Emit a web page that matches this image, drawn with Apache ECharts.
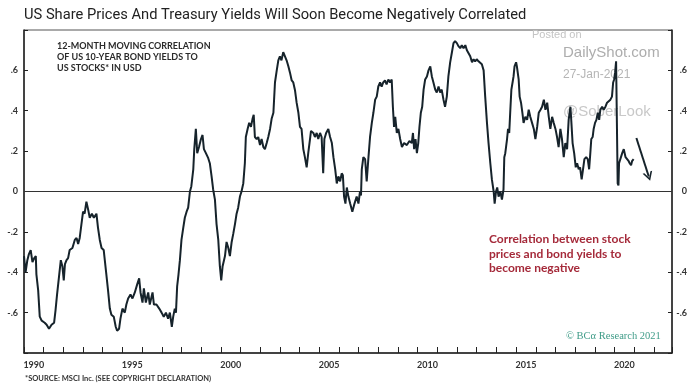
<!DOCTYPE html>
<html>
<head>
<meta charset="utf-8">
<script src="https://cdn.jsdelivr.net/npm/echarts@6/dist/echarts.min.js"></script>
<style>html,body{margin:0;padding:0;background:#fff}#c{width:700px;height:391px}</style>
</head>
<body>
<div id="c"></div>
<script>
// ---- data ----
const years = [1990.00,1990.08,1990.17,1990.25,1990.34,1990.43,1990.52,1990.60,1990.63,1990.72,1990.80,1990.90,1991.05,1991.15,1991.27,1991.40,1991.53,1991.60,1991.68,1991.78,1991.87,1991.95,1992.02,1992.08,1992.16,1992.24,1992.32,1992.46,1992.58,1992.67,1992.75,1992.83,1992.92,1993.00,1993.08,1993.17,1993.26,1993.34,1993.45,1993.55,1993.68,1993.76,1993.85,1993.94,1994.05,1994.16,1994.27,1994.36,1994.44,1994.56,1994.66,1994.73,1994.83,1994.90,1995.00,1995.12,1995.20,1995.29,1995.41,1995.51,1995.63,1995.75,1995.85,1995.92,1996.02,1996.09,1996.19,1996.31,1996.39,1996.53,1996.60,1996.73,1996.87,1996.99,1997.10,1997.21,1997.32,1997.41,1997.51,1997.58,1997.66,1997.72,1997.78,1997.85,1997.92,1998.00,1998.09,1998.17,1998.26,1998.34,1998.43,1998.50,1998.60,1998.65,1998.73,1998.80,1998.89,1998.99,1999.07,1999.14,1999.24,1999.36,1999.44,1999.53,1999.61,1999.70,1999.78,1999.87,1999.95,2000.02,2000.09,2000.21,2000.29,2000.38,2000.46,2000.55,2000.63,2000.72,2000.80,2000.88,2000.97,2001.05,2001.14,2001.22,2001.27,2001.36,2001.44,2001.53,2001.61,2001.67,2001.73,2001.82,2001.90,2001.99,2002.07,2002.16,2002.24,2002.33,2002.41,2002.50,2002.58,2002.67,2002.75,2002.84,2002.92,2003.00,2003.08,2003.17,2003.27,2003.34,2003.43,2003.51,2003.60,2003.68,2003.77,2003.85,2003.94,2004.02,2004.10,2004.19,2004.27,2004.36,2004.44,2004.53,2004.58,2004.70,2004.78,2004.87,2004.95,2005.04,2005.12,2005.20,2005.26,2005.35,2005.46,2005.55,2005.64,2005.72,2005.81,2005.89,2005.97,2006.06,2006.14,2006.20,2006.26,2006.33,2006.40,2006.48,2006.57,2006.68,2006.79,2006.90,2006.99,2007.07,2007.12,2007.16,2007.24,2007.33,2007.41,2007.50,2007.58,2007.67,2007.75,2007.84,2007.92,2008.00,2008.09,2008.17,2008.25,2008.34,2008.42,2008.51,2008.60,2008.68,2008.74,2008.80,2008.86,2008.94,2009.02,2009.11,2009.20,2009.31,2009.45,2009.58,2009.70,2009.76,2009.82,2009.89,2009.96,2010.03,2010.09,2010.16,2010.23,2010.30,2010.38,2010.47,2010.55,2010.64,2010.72,2010.80,2010.89,2010.97,2011.06,2011.14,2011.22,2011.31,2011.39,2011.48,2011.56,2011.65,2011.74,2011.82,2011.90,2011.99,2012.07,2012.16,2012.24,2012.33,2012.42,2012.50,2012.58,2012.67,2012.76,2012.84,2012.92,2013.00,2013.09,2013.18,2013.26,2013.35,2013.43,2013.52,2013.60,2013.69,2013.77,2013.86,2013.91,2013.98,2014.04,2014.11,2014.20,2014.28,2014.36,2014.40,2014.45,2014.54,2014.59,2014.65,2014.70,2014.76,2014.82,2014.87,2014.92,2015.00,2015.04,2015.13,2015.18,2015.25,2015.32,2015.38,2015.47,2015.56,2015.64,2015.72,2015.81,2015.90,2015.98,2016.07,2016.15,2016.24,2016.32,2016.41,2016.49,2016.58,2016.66,2016.74,2016.83,2016.91,2017.00,2017.08,2017.16,2017.25,2017.33,2017.42,2017.50,2017.59,2017.67,2017.76,2017.81,2017.87,2017.95,2018.03,2018.10,2018.18,2018.25,2018.33,2018.40,2018.47,2018.56,2018.64,2018.71,2018.77,2018.82,2018.89,2018.94,2019.01,2019.08,2019.15,2019.22,2019.28,2019.37,2019.45,2019.54,2019.62,2019.70,2019.79,2019.87,2019.93,2019.98,2020.03,2020.08,2020.13,2020.16,2020.20,2020.23,2020.30,2020.39,2020.47,2020.56,2020.64,2020.72,2020.77,2020.84,2020.89,2020.97];
const correlation = [-0.32,-0.40,-0.34,-0.31,-0.29,-0.35,-0.33,-0.32,-0.41,-0.49,-0.62,-0.64,-0.65,-0.66,-0.68,-0.66,-0.65,-0.59,-0.51,-0.42,-0.34,-0.37,-0.44,-0.36,-0.34,-0.33,-0.29,-0.28,-0.24,-0.23,-0.26,-0.23,-0.16,-0.10,-0.11,-0.05,-0.09,-0.13,-0.11,-0.13,-0.11,-0.18,-0.24,-0.28,-0.29,-0.39,-0.49,-0.58,-0.61,-0.62,-0.67,-0.69,-0.68,-0.63,-0.58,-0.60,-0.56,-0.53,-0.51,-0.53,-0.50,-0.46,-0.43,-0.50,-0.55,-0.48,-0.55,-0.50,-0.56,-0.50,-0.56,-0.56,-0.58,-0.60,-0.62,-0.60,-0.63,-0.60,-0.67,-0.62,-0.58,-0.60,-0.47,-0.41,-0.34,-0.24,-0.18,-0.13,-0.10,-0.08,0.00,0.025,0.11,0.21,0.31,0.19,0.22,0.26,0.28,0.21,0.19,0.165,0.14,0.075,0.01,-0.04,-0.16,-0.24,-0.37,-0.44,-0.37,-0.32,-0.25,-0.28,-0.32,-0.25,-0.21,-0.16,-0.11,-0.08,-0.025,0.00,0.04,0.14,0.27,0.31,0.34,0.32,0.36,0.38,0.27,0.26,0.27,0.23,0.26,0.22,0.21,0.24,0.27,0.31,0.36,0.39,0.54,0.60,0.65,0.67,0.65,0.69,0.695,0.65,0.62,0.59,0.55,0.54,0.50,0.44,0.39,0.32,0.31,0.21,0.17,0.12,0.19,0.26,0.30,0.29,0.27,0.29,0.26,0.29,0.27,0.09,0.26,0.29,0.31,0.27,0.24,0.17,0.11,0.04,0.075,0.05,0.09,0.08,-0.025,-0.06,0.02,-0.025,-0.06,-0.10,-0.06,-0.025,-0.06,0.00,-0.02,0.11,0.17,0.16,0.05,0.17,0.27,0.34,0.39,0.455,0.47,0.52,0.54,0.52,0.54,0.55,0.53,0.555,0.54,0.555,0.42,0.32,0.37,0.29,0.31,0.26,0.22,0.24,0.23,0.25,0.24,0.29,0.21,0.26,0.19,0.24,0.32,0.39,0.42,0.505,0.555,0.57,0.60,0.62,0.57,0.54,0.505,0.49,0.52,0.49,0.505,0.455,0.42,0.47,0.57,0.64,0.69,0.735,0.745,0.735,0.72,0.71,0.725,0.71,0.725,0.70,0.70,0.67,0.64,0.655,0.645,0.655,0.645,0.64,0.63,0.60,0.47,0.34,0.24,0.14,0.06,0.00,-0.06,0.00,0.02,-0.025,0.00,-0.04,0.01,0.17,0.19,0.26,0.31,0.29,0.39,0.505,0.54,0.57,0.62,0.64,0.62,0.555,0.47,0.44,0.39,0.34,0.37,0.355,0.405,0.37,0.34,0.31,0.26,0.32,0.39,0.405,0.42,0.455,0.405,0.44,0.37,0.31,0.37,0.34,0.31,0.27,0.22,0.31,0.26,0.17,0.24,0.21,0.355,0.42,0.34,0.24,0.19,0.12,0.14,0.11,0.12,0.06,0.11,0.16,0.17,0.16,0.11,0.19,0.26,0.27,0.31,0.34,0.355,0.39,0.355,0.405,0.42,0.405,0.42,0.44,0.44,0.455,0.47,0.54,0.555,0.59,0.645,0.64,0.04,0.03,0.14,0.14,0.19,0.21,0.17,0.16,0.15,0.14,0.13,0.15,0.16];
const yTicks = [-0.8, -0.6, -0.4, -0.2, 0, 0.2, 0.4, 0.6, 0.8];
const xLabelYears = [1990, 1995, 2000, 2005, 2010, 2015, 2020];
const arrowFrom = [2021.11, 0.265];
const arrowTo = [2021.74, 0.074];

const titleText = 'US Share Prices And Treasury Yields Will Soon Become Negatively Correlated';
const noteLines = ['12-MONTH MOVING CORRELATION', 'OF US 10-YEAR BOND YIELDS TO', 'US STOCKS* IN USD'];
const redLines = ['Correlation between stock', 'prices and bond yields to', 'become negative'];
const sourceText = '*SOURCE: MSCI Inc. (SEE COPYRIGHT DECLARATION)';

// ---- chart ----
const chart = echarts.init(document.getElementById('c'), null, {renderer: 'canvas'});
const seriesData = years.map((y, i) => [y, correlation[i]]);
const yFmt = v => {
  if (Math.abs(v) > 0.7) return '';
  if (Math.abs(v) < 1e-9) return '0';
  const s = Math.abs(v).toFixed(1).replace(/^0/, '');
  return (v < 0 ? '-' : '') + s;
};
const xFmt = v => {
  const f = Math.floor(v + 1e-9);
  if (Math.abs(v - f - 0.5) < 1e-6 && xLabelYears.indexOf(f) >= 0) return String(f);
  return '';
};
const axisCol = '#222';
const lblFont = {fontFamily: 'Lato', fontWeight: 'bold', fontSize: 9, color: '#333'};

const textEl = (txt, x, y, font, fill, z) => ({
  type: 'text', x: x, y: y, z: z === undefined ? 50 : z,
  style: {text: txt, font: font, fill: fill, textVerticalAlign: 'middle'}
});

const graphics = [
  textEl(titleText, 24, 15, '14.7px Roboto', '#222'),
  textEl('Posted on', 532, 35, '11px "Liberation Sans"', '#c4c4c4', 0),
  textEl('DailyShot.com', 563, 53, '15px "Liberation Sans"', '#adadad', 0),
  textEl('27-Jan-2021', 563, 75, '12px "Liberation Sans"', '#b5b5b5', 0),
  textEl('@SoberLook', 563, 112, '15px "Liberation Sans"', '#c8c8c8', 0),
  textEl('\u00A9 BC\u03B1 Research 2021', 566, 336, '10.5px "Liberation Serif"', '#3f9c88'),
  textEl(sourceText, 25, 379, 'bold 7.5px Lato', '#333')
];
noteLines.forEach((t, i) => graphics.push(textEl(t, 57, 46 + i * 11.2, 'bold 9px Lato', '#2a2a2a')));
redLines.forEach((t, i) => graphics.push(textEl(t, 489, 239 + i * 14.7, 'bold 12px Lato', '#a52a3a')));

const option = {
  animation: false,
  backgroundColor: '#fff',
  grid: {left: 24, right: 28, top: 30, bottom: 38, show: true, borderColor: '#555', borderWidth: 1, backgroundColor: 'transparent'},
  xAxis: [
    {type: 'value', min: 1990, max: 2022.92, interval: 1, position: 'bottom',
     axisLine: {show: true, onZero: false, lineStyle: {color: axisCol, width: 1.5}},
     axisTick: {show: true, inside: true, length: 6, lineStyle: {color: axisCol, width: 1}},
     axisLabel: {show: false}, splitLine: {show: false}},
    {type: 'value', min: 1990, max: 2022.92, interval: 0.5, position: 'bottom',
     axisLine: {show: false, onZero: false}, axisTick: {show: false}, splitLine: {show: false},
     axisLabel: Object.assign({formatter: xFmt, margin: 8}, lblFont)}
  ],
  yAxis: [
    {type: 'value', min: yTicks[0], max: yTicks[yTicks.length - 1], interval: 0.2, position: 'left',
     axisLine: {show: true, onZero: false, lineStyle: {color: axisCol, width: 1.5}},
     axisTick: {show: true, inside: true, length: 4, lineStyle: {color: axisCol}},
     axisLabel: Object.assign({formatter: yFmt, margin: 6}, lblFont), splitLine: {show: false}},
    {type: 'value', min: yTicks[0], max: yTicks[yTicks.length - 1], interval: 0.2, position: 'right',
     axisLine: {show: true, onZero: false, lineStyle: {color: axisCol, width: 1.5}},
     axisTick: {show: true, inside: true, length: 4, lineStyle: {color: axisCol}},
     axisLabel: Object.assign({formatter: yFmt, margin: 15, align: 'right'}, lblFont), splitLine: {show: false}}
  ],
  graphic: graphics,
  series: [{
    type: 'line', xAxisIndex: 0, yAxisIndex: 0, data: seriesData, showSymbol: false, z: 10,
    lineStyle: {color: '#16232b', width: 2}, silent: true,
    markLine: {
      silent: true, symbol: ['none', 'none'], label: {show: false},
      data: [
        [{coord: [1990, 0], lineStyle: {color: '#333', width: 1, type: 'solid'}}, {coord: [2022.92, 0]}],
        [{coord: arrowFrom, symbol: 'none', lineStyle: {color: '#16232b', width: 2, type: 'solid'}},
         {coord: arrowTo, symbol: 'path://M5,0 L10,10 L8.2,10 L5,3.6 L1.8,10 L0,10 Z', symbolSize: [10, 9]}]
      ]
    }
  }]
};
chart.setOption(option);
</script>
</body>
</html>
